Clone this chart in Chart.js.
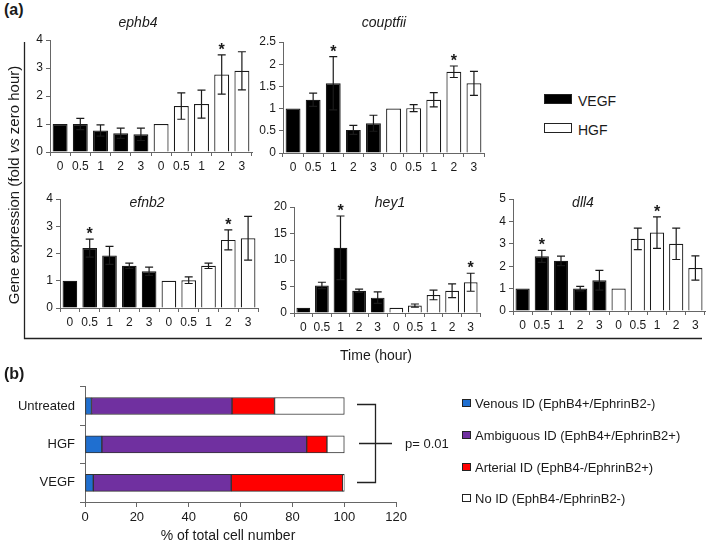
<!DOCTYPE html>
<html>
<head>
<meta charset="utf-8">
<script src="https://cdn.jsdelivr.net/npm/chart.js@4/dist/chart.umd.min.js"></script>
<style>
  body { margin: 0; background: #fff; font-family: "Liberation Sans", Arial, sans-serif; color: #1a1a1a; }
  #page { position: relative; width: 706px; height: 546px; overflow: hidden; }
  canvas { position: absolute; }
  .t { position: absolute; white-space: nowrap; }
  .c { transform: translate(-50%, -50%); }
  .m { transform: translateY(-50%); }
  .gt { font-size: 14px; font-style: italic; }
  .sw { position: absolute; border: 1px solid #222; box-sizing: border-box; }
</style>
</head>
<body>
<div id="page">
  <svg width="706" height="546" style="position:absolute;left:0;top:0">
    <path d="M24.5 42 V338.5 H702" fill="none" stroke="#222" stroke-width="1.3"/>
    <path d="M357 404.5 H375.5 V482.5 H357 M359 443.5 H392" fill="none" stroke="#222" stroke-width="1.3"/>
  </svg>

  <canvas id="ephb4"></canvas>
  <canvas id="couptfii"></canvas>
  <canvas id="efnb2"></canvas>
  <canvas id="hey1"></canvas>
  <canvas id="dll4"></canvas>
  <canvas id="cells"></canvas>

  <div class="t" style="left:4px;top:1px;font-size:16px;font-weight:bold">(a)</div>
  <div class="t" style="left:4px;top:365px;font-size:16px;font-weight:bold">(b)</div>
  <div class="t c" style="left:13px;top:185px;font-size:15px;transform:translate(-50%,-50%) rotate(-90deg)">Gene expression (fold <i>vs</i> zero hour)</div>

  <div class="t c gt" style="left:138px;top:22px">ephb4</div>
  <div class="t c gt" style="left:384px;top:22px">couptfii</div>
  <div class="t c gt" style="left:147px;top:202px">efnb2</div>
  <div class="t c gt" style="left:390px;top:202px">hey1</div>
  <div class="t c gt" style="left:583px;top:202px">dll4</div>

  <div class="sw" style="left:544px;top:94px;width:28px;height:10px;background:#000"></div>
  <div class="t m" style="left:578px;top:101px;font-size:14px">VEGF</div>
  <div class="sw" style="left:544px;top:123px;width:28px;height:10px;background:#fff"></div>
  <div class="t m" style="left:578px;top:130px;font-size:14px">HGF</div>

  <div class="t c" style="left:376px;top:355px;font-size:14px">Time (hour)</div>
  <div class="t c" style="left:228px;top:535px;font-size:14px">% of total cell number</div>
  <div class="t m" style="left:405px;top:443px;font-size:13px">p= 0.01</div>

  <div id="legendB"></div>
</div>

<script>
// time points (hours), repeated for VEGF then HGF
const times = ['0', '0.5', '1', '2', '3'];

// ephb4
const ephb4Vegf = [1, 1.0, 0.77, 0.67, 0.63];
const ephb4VegfErr = [0, 0.2, 0.2, 0.18, 0.22];
const ephb4Hgf = [1, 1.64, 1.71, 2.77, 2.9];
const ephb4HgfErr = [0, 0.47, 0.5, 0.7, 0.68];
const ephb4Stars = [0, 0, 0, 0, 0, 0, 0, 0, 1, 0];

// couptfii
const couptVegf = [1, 1.2, 1.57, 0.52, 0.67];
const couptVegfErr = [0, 0.15, 0.6, 0.1, 0.18];
const couptHgf = [1, 1.01, 1.2, 1.83, 1.57];
const couptHgfErr = [0, 0.08, 0.16, 0.13, 0.27];
const couptStars = [0, 0, 1, 0, 0, 0, 0, 0, 1, 0];

// efnb2
const efnb2Vegf = [1, 2.2, 1.93, 1.55, 1.35];
const efnb2VegfErr = [0, 0.33, 0.33, 0.1, 0.15];
const efnb2Hgf = [1, 1.02, 1.55, 2.5, 2.56];
const efnb2HgfErr = [0, 0.12, 0.1, 0.37, 0.8];
const efnb2Stars = [0, 1, 0, 0, 0, 0, 0, 0, 1, 0];

// hey1
const hey1Vegf = [1, 5.2, 12.3, 4.2, 2.9];
const hey1VegfErr = [0, 0.6, 6.0, 0.3, 1.1];
const hey1Hgf = [1, 1.4, 3.4, 4.2, 5.8];
const hey1HgfErr = [0, 0.3, 0.9, 1.3, 1.7];
const hey1Stars = [0, 0, 1, 0, 0, 0, 0, 0, 0, 1];

// dll4
const dll4Vegf = [1, 2.44, 2.24, 1.0, 1.37];
const dll4VegfErr = [0, 0.27, 0.21, 0.1, 0.44];
const dll4Hgf = [1, 3.22, 3.5, 3.0, 1.92];
const dll4HgfErr = [0, 0.48, 0.7, 0.7, 0.54];
const dll4Stars = [0, 1, 0, 0, 0, 0, 0, 1, 0, 0];

// panel (b): % of total cell number
const groups = ['Untreated', 'HGF', 'VEGF'];
const venous = [2.5, 6.5, 3.2];
const ambiguous = [54.2, 79, 53.2];
const arterial = [16.4, 7.8, 43];
const noId = [26.9, 6.7, 0.6];
const idNames = ['Venous ID (EphB4+/EphrinB2-)', 'Ambiguous ID (EphB4+/EphrinB2+)',
                 'Arterial ID (EphB4-/EphrinB2+)', 'No ID (EphB4-/EphrinB2-)'];
const idColors = ['#1f6fd0', '#7030a0', '#ff0000', '#ffffff'];

Chart.defaults.font.family = '"Liberation Sans", Arial, sans-serif';
Chart.defaults.color = '#1a1a1a';

const axisColor = '#666';

// error bars + significance stars
const errBars = {
  id: 'errbars',
  afterDatasetsDraw(chart, args, opts) {
    const ctx = chart.ctx;
    const y = chart.scales.y;
    const meta = chart.getDatasetMeta(0);
    const vals = chart.data.datasets[0].data;
    ctx.save();
    ctx.strokeStyle = '#1a1a1a';
    ctx.lineWidth = 1.2;
    meta.data.forEach((bar, i) => {
      const v = vals[i], e = opts.errs[i];
      const top = y.getPixelForValue(v + e);
      if (e > 0) {
        const bot = y.getPixelForValue(v - e);
        ctx.beginPath();
        ctx.moveTo(bar.x, top); ctx.lineTo(bar.x, bot);
        ctx.moveTo(bar.x - 4, top); ctx.lineTo(bar.x + 4, top);
        ctx.moveTo(bar.x - 4, bot); ctx.lineTo(bar.x + 4, bot);
        ctx.stroke();
      }
      if (opts.stars[i]) {
        ctx.fillStyle = '#1a1a1a';
        ctx.font = 'bold 16px "Liberation Sans", Arial';
        ctx.textAlign = 'center';
        ctx.textBaseline = 'alphabetic';
        ctx.fillText('*', bar.x, top);
      }
    });
    ctx.restore();
  }
};

function geneChart(id, vegf, vegfErr, hgf, hgfErr, stars, yMax, yStep, area) {
  const padTop = 14, yW = 35, xH = 25, padR = 4;
  const cv = document.getElementById(id);
  cv.width = area.right - area.left + yW + padR;
  cv.height = area.bottom - area.top + padTop + xH;
  cv.style.left = (area.left - yW) + 'px';
  cv.style.top = (area.top - padTop) + 'px';
  const data = vegf.concat(hgf);
  const colors = data.map((d, i) => i < 5 ? '#000' : '#fff');
  new Chart(cv, {
    type: 'bar',
    data: {
      labels: times.concat(times),
      datasets: [{
        data: data,
        backgroundColor: colors,
        borderColor: '#1a1a1a',
        borderWidth: 1.2,
        barPercentage: 0.74,
        categoryPercentage: 1.0
      }]
    },
    options: {
      responsive: false,
      animation: false,
      layout: { padding: { top: padTop, right: padR, left: 0, bottom: 0 }, autoPadding: false },
      plugins: {
        legend: { display: false },
        tooltip: { enabled: false },
        errbars: { errs: vegfErr.concat(hgfErr), stars: stars }
      },
      scales: {
        x: {
          afterFit: s => { s.height = xH; },
          grid: { offset: true, drawOnChartArea: false, tickLength: 4, color: axisColor },
          border: { color: axisColor },
          ticks: { font: { size: 12 }, padding: 3, maxRotation: 0, autoSkip: false }
        },
        y: {
          min: 0, max: yMax,
          afterFit: s => { s.width = yW; },
          grid: { drawOnChartArea: false, tickLength: 4, color: axisColor },
          border: { color: axisColor },
          ticks: { stepSize: yStep, font: { size: 12 }, padding: 3, callback: v => String(v) }
        }
      }
    },
    plugins: [errBars]
  });
}

geneChart('ephb4', ephb4Vegf, ephb4VegfErr, ephb4Hgf, ephb4HgfErr, ephb4Stars, 4, 1,
  { left: 50, right: 252, top: 40, bottom: 152 });
geneChart('couptfii', couptVegf, couptVegfErr, couptHgf, couptHgfErr, couptStars, 2.5, 0.5,
  { left: 283, right: 484, top: 42, bottom: 153 });
geneChart('efnb2', efnb2Vegf, efnb2VegfErr, efnb2Hgf, efnb2HgfErr, efnb2Stars, 4, 1,
  { left: 60, right: 258, top: 199, bottom: 308 });
geneChart('hey1', hey1Vegf, hey1VegfErr, hey1Hgf, hey1HgfErr, hey1Stars, 20, 5,
  { left: 294, right: 480, top: 207, bottom: 313 });
geneChart('dll4', dll4Vegf, dll4VegfErr, dll4Hgf, dll4HgfErr, dll4Stars, 5, 1,
  { left: 513, right: 705, top: 199, bottom: 311 });

// panel (b) stacked horizontal bars
const cb = document.getElementById('cells');
cb.width = 410; cb.height = 172;
cb.style.left = '0px'; cb.style.top = '374px';
const stacks = [venous, ambiguous, arterial, noId];
new Chart(cb, {
  type: 'bar',
  data: {
    labels: groups,
    datasets: stacks.map((vals, k) => ({
      label: idNames[k],
      data: vals,
      backgroundColor: idColors[k],
      borderColor: '#333',
      borderWidth: 1,
      borderSkipped: false,
      barThickness: 17
    }))
  },
  options: {
    indexAxis: 'y',
    responsive: false,
    animation: false,
    layout: { padding: { top: 10, right: 12, left: 0, bottom: 0 }, autoPadding: false },
    plugins: { legend: { display: false }, tooltip: { enabled: false } },
    scales: {
      x: {
        stacked: true, min: 0, max: 120,
        afterFit: s => { s.height = 44; },
        grid: { drawOnChartArea: false, tickLength: 5, color: axisColor },
        border: { color: axisColor },
        ticks: { stepSize: 20, font: { size: 13 }, padding: 3 }
      },
      y: {
        stacked: true,
        afterFit: s => { s.width = 85; },
        grid: { offset: true, drawOnChartArea: false, tickLength: 5, color: axisColor },
        border: { color: axisColor },
        ticks: { font: { size: 13 }, padding: 5 }
      }
    }
  }
});

// legend for (b)
const lg = document.getElementById('legendB');
const legendY = [403, 435, 467, 498];
idNames.forEach((name, k) => {
  const sq = document.createElement('div');
  sq.className = 'sw';
  sq.style.cssText = 'left:462px;top:' + (legendY[k] - 4) + 'px;width:9px;height:8px;background:' + idColors[k];
  lg.appendChild(sq);
  const tx = document.createElement('div');
  tx.className = 't m';
  tx.style.cssText = 'left:475px;top:' + legendY[k] + 'px;font-size:13px';
  tx.textContent = name;
  lg.appendChild(tx);
});
</script>
</body>
</html>
